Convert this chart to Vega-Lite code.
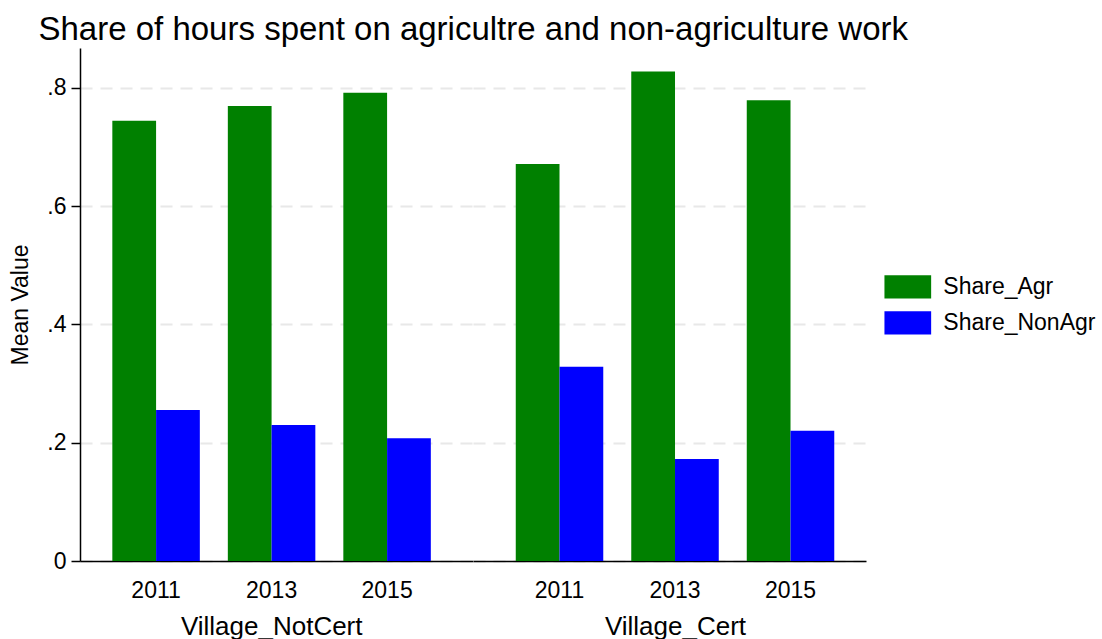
{
  "$schema": "https://vega.github.io/schema/vega-lite/v6.json",
  "background": "white",
  "padding": {"left": 9, "top": 14, "right": 5, "bottom": 0},
  "title": {
    "text": "Share of hours spent on agricultre and non-agriculture work",
    "anchor": "start",
    "font": "Liberation Sans",
    "fontSize": 33,
    "fontWeight": "normal",
    "color": "#000000",
    "baseline": "alphabetic",
    "offset": -25,
    "dx": 29
  },
  "data": {
    "values": [
      {"village": "Village_NotCert", "year": "2011", "series": "Share_Agr", "value": 0.7443},
      {"village": "Village_NotCert", "year": "2011", "series": "Share_NonAgr", "value": 0.2552},
      {"village": "Village_NotCert", "year": "2013", "series": "Share_Agr", "value": 0.7691},
      {"village": "Village_NotCert", "year": "2013", "series": "Share_NonAgr", "value": 0.2299},
      {"village": "Village_NotCert", "year": "2015", "series": "Share_Agr", "value": 0.7916},
      {"village": "Village_NotCert", "year": "2015", "series": "Share_NonAgr", "value": 0.2074},
      {"village": "Village_Cert", "year": "2011", "series": "Share_Agr", "value": 0.6711},
      {"village": "Village_Cert", "year": "2011", "series": "Share_NonAgr", "value": 0.3284},
      {"village": "Village_Cert", "year": "2013", "series": "Share_Agr", "value": 0.8272},
      {"village": "Village_Cert", "year": "2013", "series": "Share_NonAgr", "value": 0.1726},
      {"village": "Village_Cert", "year": "2015", "series": "Share_Agr", "value": 0.7787},
      {"village": "Village_Cert", "year": "2015", "series": "Share_NonAgr", "value": 0.2203}
    ]
  },
  "spacing": 0,
  "hconcat": [
    {
      "width": 393,
      "height": 513,
      "transform": [{"filter": "datum.village == 'Village_NotCert'"}],
      "mark": {"type": "bar"},
      "encoding": {
        "x": {
          "field": "year", "type": "ordinal",
          "scale": {"paddingInner": 0.2424, "paddingOuter": 0.3225, "align": 0.434},
          "axis": {"title": "Village_NotCert", "titleX": 191.2, "titleY": 73}
        },
        "xOffset": {"field": "series", "type": "nominal", "scale": {"paddingInner": 0, "paddingOuter": 0}},
        "y": {
          "field": "value", "type": "quantitative",
          "scale": {"domain": [0, 0.8671], "nice": false, "zero": true},
          "axis": {
            "title": "Mean Value",
            "values": [0, 0.2, 0.4, 0.6, 0.8],
            "labelExpr": "datum.value == 0 ? '0' : replace(format(datum.value, '.1f'), '0.', '.')",
            "ticks": true, "tickSize": 9, "tickColor": "#000000", "tickWidth": 1.5,
            "labelPadding": 5,
            "domain": true,
            "titleX": -52.5, "titleBaseline": "alphabetic"
          }
        },
        "color": {
          "field": "series", "type": "nominal",
          "scale": {"domain": ["Share_Agr", "Share_NonAgr"], "range": ["#008000", "#0000ff"]},
          "legend": {
            "orient": "none", "legendX": 804.3, "legendY": 215.4,
            "title": null,
            "symbolType": "M-1,-0.5H1V0.5H-1Z",
            "symbolSize": 2181,
            "symbolStrokeWidth": 0,
            "symbolOpacity": 1,
            "labelFont": "Liberation Sans",
            "labelFontSize": 23,
            "labelColor": "#000000",
            "labelOffset": 12,
            "rowPadding": -3,
            "padding": 0
          }
        }
      }
    },
    {
      "width": 393,
      "height": 513,
      "transform": [{"filter": "datum.village == 'Village_Cert'"}],
      "mark": {"type": "bar"},
      "encoding": {
        "x": {
          "field": "year", "type": "ordinal",
          "scale": {"paddingInner": 0.2424, "paddingOuter": 0.3225, "align": 0.574},
          "axis": {"title": "Village_Cert", "titleX": 202, "titleY": 73}
        },
        "xOffset": {"field": "series", "type": "nominal", "scale": {"paddingInner": 0, "paddingOuter": 0}},
        "y": {
          "field": "value", "type": "quantitative",
          "scale": {"domain": [0, 0.8671], "nice": false, "zero": true},
          "axis": {
            "title": null,
            "values": [0, 0.2, 0.4, 0.6, 0.8],
            "labels": false, "ticks": false, "domain": false
          }
        },
        "color": {
          "field": "series", "type": "nominal",
          "scale": {"domain": ["Share_Agr", "Share_NonAgr"], "range": ["#008000", "#0000ff"]}
        }
      }
    }
  ],
  "resolve": {"scale": {"x": "independent", "xOffset": "independent", "y": "shared", "color": "shared"}},
  "config": {
    "view": {"stroke": null},
    "font": "Liberation Sans",
    "bar": {"stroke": null},
    "axis": {
      "labelFont": "Liberation Sans",
      "titleFont": "Liberation Sans",
      "labelColor": "#000000",
      "titleColor": "#000000",
      "titleFontWeight": "normal",
      "domainColor": "#000000",
      "domainWidth": 1.5,
      "gridColor": "#e8e8e8",
      "gridDash": [12, 8],
      "gridWidth": 2
    },
    "axisX": {
      "labelAngle": 0,
      "labelFontSize": 23,
      "ticks": false,
      "tickSize": 0,
      "labelPadding": 18,
      "grid": false,
      "titleFontSize": 26,
      "titleBaseline": "alphabetic",
      "titleAlign": "center"
    },
    "axisY": {
      "labelFontSize": 23,
      "titleFontSize": 23,
      "grid": true
    }
  }
}
